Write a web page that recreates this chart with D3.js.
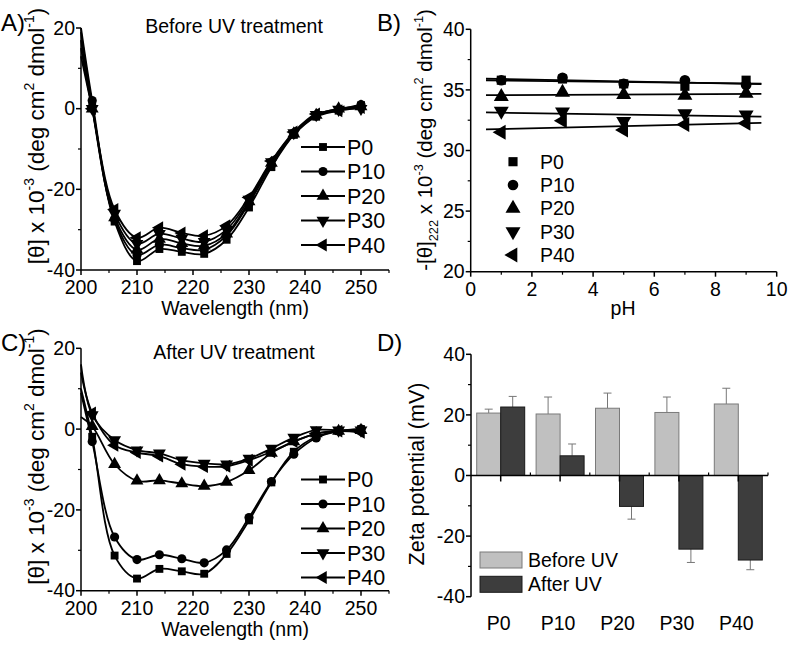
<!DOCTYPE html>
<html><head><meta charset="utf-8">
<script src="https://cdn.jsdelivr.net/npm/d3@7"></script>
<style>
body{margin:0;background:#fff}
text{font-family:"Liberation Sans",Arial,sans-serif;fill:#000}
</style>
</head><body>
<svg id="chart" width="800" height="650"></svg>
<script>
// ---------------- DATA ----------------
const seriesNames = ["P0","P10","P20","P30","P40"];
const wavelengths = [200,202,206,210,214,218,222,226,230,234,238,242,246,250];

// Panel A: before UV treatment, [θ] x 10^-3
const beforeP0  = [19, 1, -28, -37.8, -34.8, -35.5, -36, -32.5, -24.5, -14.5, -6.5, -2, -0.5, 0.8];
const beforeP10 = [20, 2, -27.5, -36.3, -33.7, -34.6, -35, -31.5, -23.5, -14, -6.3, -1.8, -0.3, 1];
const beforeP20 = [17, 0, -27, -35, -32.3, -33.4, -34, -31, -23, -13.5, -6.2, -1.6, 0, 0.5];
const beforeP30 = [15, 0, -26, -33.5, -31, -32.2, -33, -30, -22.5, -13.2, -6, -1.5, -0.2, 0];
const beforeP40 = [13, 0, -25, -32, -29.5, -30.8, -31.5, -29, -22, -13, -5.8, -1.3, -0.5, 0.3];

// Panel C: after UV treatment
const afterP0  = [10, -1.9, -31.3, -37, -34.6, -35.2, -35.8, -30.9, -22.6, -13.2, -5.6, -1.9, -0.5, 0];
const afterP10 = [9, -3.1, -26.7, -32.3, -31.1, -32.1, -33.1, -29.9, -21.9, -13, -6.2, -2.2, -0.5, 0];
const afterP20 = [3, 0.7, -8.7, -12.8, -12.7, -13.5, -14.1, -13.1, -10.2, -5.9, -3.1, -1.1, -0.5, -0.3];
const afterP30 = [16, 3.5, -2.7, -5.2, -6, -7.7, -8.5, -8.7, -7.3, -4.8, -2.1, -0.2, -0.3, -0.3];
const afterP40 = [14, 4, -4, -5.8, -6.7, -8.7, -9.3, -9.2, -7.7, -5.6, -3.1, -1.1, -0.5, -0.8];

// Panel B: -[θ]222 x 10^-3 vs pH
const pHValues = [1,3,5,7,9];
const theta222P0  = [35.8, 35.9, 35.5, 35.3, 35.8];
const theta222P10 = [35.8, 36.0, 35.5, 35.8, 35.4];
const theta222P20 = [34.45, 34.8, 34.6, 34.55, 34.7];
const theta222P30 = [33.25, 33.2, 32.4, 33.05, 32.95];
const theta222P40 = [31.5, 32.45, 31.7, 32.15, 32.25];
const fitRange = [0.5, 9.5];

// Panel D: zeta potential (mV)
const zetaCategories = ["P0","P10","P20","P30","P40"];
const zetaBefore    = [20.6, 20.3, 22.2, 20.8, 23.6];
const zetaBeforeErr = [1.3, 5.6, 5.0, 5.1, 5.2];
const zetaAfter     = [22.6, 6.5, -10.2, -24.3, -27.9];
const zetaAfterErr  = [3.5, 3.9, 4.2, 4.4, 3.2];

// Tick values
const wlMajor = [200,210,220,230,240,250];
const wlMinor = [205,215,225,235,245,255];
const cdMajor = [-40,-20,0,20];
const cdMinor = [-30,-10,10];
const phMajor = [0,2,4,6,8,10];
const phMinor = [1,3,5,7,9];
const thMajor = [20,25,30,35,40];
const thMinor = [22.5,27.5,32.5,37.5];
const zMajor = [-40,-20,0,20,40];
const zMinor = [-30,-10,10,30];

// ---------------- DRAWING ----------------
const svg = d3.select("#chart");
const FS = 19.5;
const symbolTypes = [
  {type: d3.symbolSquare, rot: 0, size: 62},
  {type: d3.symbolCircle, rot: 0, size: 66},
  {type: d3.symbolTriangle, rot: 0, size: 72},
  {type: d3.symbolTriangle, rot: 180, size: 72},
  {type: d3.symbolTriangle, rot: -90, size: 72}
];

function richText(g, x, y, segs, opts) {
  const fs = opts.fs || FS;
  const t = g.append("text")
    .attr("font-size", fs)
    .attr("text-anchor", opts.anchor || "middle");
  if (opts.rotate) {
    t.attr("transform", `translate(${x},${y}) rotate(${opts.rotate})`);
  } else {
    t.attr("x", x).attr("y", y);
  }
  let shift = 0;
  segs.forEach(s => {
    const ts = t.append("tspan").text(s.t);
    let target = 0;
    if (s.sup) { ts.attr("font-size", fs * 0.62); target = -fs * 0.45; }
    if (s.sub) { ts.attr("font-size", fs * 0.62); target = fs * 0.28; }
    ts.attr("dy", target - shift);
    shift = target;
  });
  return t;
}

function axisLeft(g, y, x0, major, minor) {
  const ax = g.append("g").attr("transform", `translate(${x0},0)`);
  ax.append("line").attr("y1", y.range()[0]).attr("y2", y.range()[1]).attr("stroke", "#000").attr("stroke-width", 1.5);
  major.forEach(v => {
    ax.append("line").attr("x1", -5).attr("x2", 0).attr("y1", y(v)).attr("y2", y(v)).attr("stroke", "#000").attr("stroke-width", 1.5);
    ax.append("text").attr("x", -6).attr("y", y(v)).attr("dy", "0.34em").attr("text-anchor", "end").attr("font-size", FS).text(v);
  });
  minor.forEach(v => {
    ax.append("line").attr("x1", -3).attr("x2", 0).attr("y1", y(v)).attr("y2", y(v)).attr("stroke", "#000").attr("stroke-width", 1.2);
  });
}
function axisBottom(g, x, y0, major, minor) {
  const ax = g.append("g").attr("transform", `translate(0,${y0})`);
  ax.append("line").attr("x1", x.range()[0]).attr("x2", x.range()[1]).attr("stroke", "#000").attr("stroke-width", 1.5);
  major.forEach(v => {
    ax.append("line").attr("x1", x(v)).attr("x2", x(v)).attr("y1", 0).attr("y2", 5).attr("stroke", "#000").attr("stroke-width", 1.5);
    ax.append("text").attr("x", x(v)).attr("y", 9).attr("dy", "0.76em").attr("text-anchor", "middle").attr("font-size", FS).text(v);
  });
  minor.forEach(v => {
    ax.append("line").attr("x1", x(v)).attr("x2", x(v)).attr("y1", 0).attr("y2", 3).attr("stroke", "#000").attr("stroke-width", 1.2);
  });
}
function marker(g, i, cx, cy, scale) {
  const s = symbolTypes[i];
  g.append("path")
    .attr("d", d3.symbol().type(s.type).size(s.size * (scale || 1))())
    .attr("transform", `translate(${cx},${cy}) rotate(${s.rot})`)
    .attr("fill", "#000");
}

const cdLabel = [{t:"[θ] x 10"},{t:"-3",sup:true},{t:" (deg cm"},{t:"2",sup:true},{t:" dmol"},{t:"-1",sup:true},{t:")"}];

function cdPanel(top, bottom, seriesList, letter, title, titleY, legendY) {
  const g = svg.append("g");
  const x = d3.scaleLinear().domain([200,255]).range([81,389]);
  const y = d3.scaleLinear().domain([-40,20]).range([bottom, top]);
  const line = d3.line().x((d,i) => x(wavelengths[i])).y(d => y(d)).curve(d3.curveCatmullRom.alpha(0.5));
  seriesList.forEach((vals, si) => {
    g.append("path").attr("d", line(vals)).attr("fill", "none").attr("stroke", "#000").attr("stroke-width", 1.8);
    vals.forEach((v, i) => { if (i > 0) marker(g, si, x(wavelengths[i]), y(v)); });
  });
  axisLeft(g, y, 81, cdMajor, cdMinor);
  axisBottom(g, x, bottom, wlMajor, wlMinor);
  g.append("text").attr("x", 235).attr("y", bottom + 45).attr("text-anchor", "middle").attr("font-size", FS).text("Wavelength (nm)");
  richText(g, 44, (top + bottom) / 2 - 13, cdLabel, {rotate: -90, fs: 22.5});
  g.append("text").attr("x", 1).attr("y", top + 3).attr("font-size", 24).text(letter);
  g.append("text").attr("x", 234).attr("y", titleY).attr("text-anchor", "middle").attr("font-size", FS).text(title);
  seriesNames.forEach((nm, i) => {
    const ly = legendY + i * 24.5;
    g.append("line").attr("x1", 301).attr("x2", 345).attr("y1", ly).attr("y2", ly).attr("stroke", "#000").attr("stroke-width", 1.8);
    marker(g, i, 323, ly);
    g.append("text").attr("x", 347).attr("y", ly).attr("dy", "0.36em").attr("font-size", 21.5).text(nm);
  });
}

cdPanel(28, 270, [beforeP0, beforeP10, beforeP20, beforeP30, beforeP40], "A)", "Before UV treatment", 33, 147);
cdPanel(348.3, 590.7, [afterP0, afterP10, afterP20, afterP30, afterP40], "C)", "After UV treatment", 359, 479.5);

// ---- Panel B ----
(function(){
  const g = svg.append("g");
  const x = d3.scaleLinear().domain([0,10]).range([470.7,776.7]);
  const y = d3.scaleLinear().domain([20,40]).range([271.7,29.3]);
  const sets = [theta222P0, theta222P10, theta222P20, theta222P30, theta222P40];
  sets.forEach((vals, si) => {
    const mx = d3.mean(pHValues), my = d3.mean(vals);
    const slope = d3.sum(pHValues, (p,i) => (p - mx) * (vals[i] - my)) / d3.sum(pHValues, p => (p - mx) ** 2);
    const f = p => my + slope * (p - mx);
    g.append("line").attr("x1", x(fitRange[0])).attr("x2", x(fitRange[1]))
      .attr("y1", y(f(fitRange[0]))).attr("y2", y(f(fitRange[1])))
      .attr("stroke", "#000").attr("stroke-width", 1.8);
  });
  sets.forEach((vals, si) => {
    vals.forEach((v, i) => marker(g, si, x(pHValues[i]), y(v), 1.35));
  });
  axisLeft(g, y, 470.7, thMajor, thMinor);
  axisBottom(g, x, 271.7, phMajor, phMinor);
  g.append("text").attr("x", 623).attr("y", 315).attr("text-anchor", "middle").attr("font-size", FS).text("pH");
  richText(g, 432, 140, [{t:"-[θ]"},{t:"222",sub:true},{t:" x 10"},{t:"-3",sup:true},{t:" (deg cm"},{t:"2",sup:true},{t:" dmol"},{t:"-1",sup:true},{t:")"}], {rotate: -90, fs: 20.5});
  g.append("text").attr("x", 377).attr("y", 31).attr("font-size", 24).text("B)");
  seriesNames.forEach((nm, i) => {
    const ly = 161.7 + i * 23.3;
    marker(g, i, 513, ly, 1.35);
    g.append("text").attr("x", 540).attr("y", ly).attr("dy", "0.36em").attr("font-size", FS).text(nm);
  });
})();

// ---- Panel D ----
(function(){
  const g = svg.append("g");
  const x = d3.scaleBand().domain(zetaCategories).range([471, 768]).paddingInner(0.2).paddingOuter(0.1);
  const y = d3.scaleLinear().domain([-40,40]).range([596.7,354.3]);
  const bw = 24;
  const colors = {before: "#c0c0c0", beforeStroke: "#7a7a7a", after: "#3d3d3d", afterStroke: "#1a1a1a"};
  zetaCategories.forEach((c, i) => {
    const cx = x(c) + x.bandwidth() / 2;
    const items = [
      {v: zetaBefore[i], e: zetaBeforeErr[i], x0: cx - bw, fill: colors.before, st: colors.beforeStroke},
      {v: zetaAfter[i], e: zetaAfterErr[i], x0: cx, fill: colors.after, st: colors.afterStroke}
    ];
    items.forEach(it => {
      const ex = it.x0 + bw / 2;
      const tip = it.v >= 0 ? it.v + it.e : it.v - it.e;
      g.append("line").attr("x1", ex).attr("x2", ex).attr("y1", y(it.v)).attr("y2", y(tip)).attr("stroke", "#777").attr("stroke-width", 1);
      g.append("line").attr("x1", ex - 4).attr("x2", ex + 4).attr("y1", y(tip)).attr("y2", y(tip)).attr("stroke", "#777").attr("stroke-width", 1);
      g.append("rect").attr("x", it.x0).attr("width", bw)
        .attr("y", y(Math.max(0, it.v))).attr("height", Math.abs(y(it.v) - y(0)))
        .attr("fill", it.fill).attr("stroke", it.st).attr("stroke-width", 1);
    });
  });
  axisLeft(g, y, 471, zMajor, zMinor);
  const zx = g.append("g").attr("transform", `translate(0,${y(0)})`);
  zx.append("line").attr("x1", 471).attr("x2", 768).attr("stroke", "#000").attr("stroke-width", 1.5);
  zetaCategories.forEach((c, i) => {
    const cx = x(c) + x.bandwidth() / 2;
    zx.append("line").attr("x1", cx).attr("x2", cx).attr("y1", 0).attr("y2", 6).attr("stroke", "#000").attr("stroke-width", 1.5);
    zx.append("line").attr("x1", cx + x.step() / 2).attr("x2", cx + x.step() / 2).attr("y1", 0).attr("y2", -3).attr("stroke", "#000").attr("stroke-width", 1.2);
    g.append("text").attr("x", cx - 2).attr("y", 623).attr("dy", "0.36em").attr("text-anchor", "middle").attr("font-size", FS).text(c);
  });
  g.append("text").attr("transform", "translate(424,474) rotate(-90)").attr("text-anchor", "middle").attr("font-size", 21.5).text("Zeta potential (mV)");
  g.append("text").attr("x", 377).attr("y", 351).attr("font-size", 24).text("D)");
  const leg = [{n: "Before UV", f: colors.before, s: colors.beforeStroke}, {n: "After UV", f: colors.after, s: colors.afterStroke}];
  leg.forEach((l, i) => {
    const ly = 552 + i * 24.3;
    g.append("rect").attr("x", 480).attr("y", ly).attr("width", 42).attr("height", 16).attr("fill", l.f).attr("stroke", l.s).attr("stroke-width", 1);
    g.append("text").attr("x", 528).attr("y", ly + 8).attr("dy", "0.36em").attr("font-size", FS).text(l.n);
  });
})();
</script>
</body></html>
